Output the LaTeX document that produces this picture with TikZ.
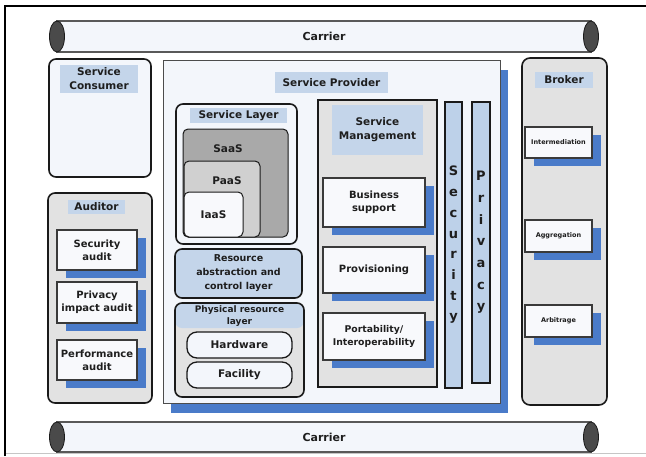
\documentclass[tikz,border=0pt]{standalone}
\usepackage{fontspec}
\setmainfont{DejaVu Sans}
\usetikzlibrary{shadows}

\definecolor{shblue}{HTML}{4A7BC9}
\definecolor{tagblue}{HTML}{C4D5EA}
\definecolor{barblue}{HTML}{BDD1E9}
\definecolor{lightfill}{HTML}{F3F6FB}
\definecolor{greyfill}{HTML}{E2E2E2}
\definecolor{saasgrey}{HTML}{A9A9A9}
\definecolor{paasgrey}{HTML}{D0D0D0}
\definecolor{edge}{HTML}{1A1A1A}
\definecolor{itemedge}{HTML}{3A3A3A}
\definecolor{itemfill}{HTML}{F8F9FC}
\definecolor{capfill}{HTML}{4A4A4A}
\definecolor{ink}{HTML}{1E1E1E}

\begin{document}
\begin{tikzpicture}[x=1pt,y=-1pt,
  every node/.style={outer sep=0pt, text=ink},
  box/.style={draw=edge, line width=1.6pt, rounded corners=7pt, inner sep=0pt, anchor=north west},
  plainbox/.style={draw=edge, line width=1.3pt, inner sep=0pt, anchor=north west},
  tag/.style={fill=tagblue, anchor=north west, inner sep=0pt, align=center,
              font=\bfseries\fontsize{10.5}{14}\selectfont},
  item/.style={draw=itemedge, line width=1.1pt, fill=itemfill, anchor=north west,
               align=center, inner sep=1pt, font=\bfseries\fontsize{10}{13}\selectfont,
               drop shadow={shadow xshift=9pt, shadow yshift=-8pt, fill=shblue, opacity=1}},
  smallitem/.style={item, font=\bfseries\fontsize{6.5}{8}\selectfont},
  pill/.style={draw=edge, line width=1.3pt, fill=lightfill, rounded corners=10pt,
               anchor=north west, inner sep=0pt, font=\bfseries\fontsize{10.5}{13}\selectfont},
  tube/.style={draw=gray!70!black, line width=1.2pt, fill=lightfill, inner sep=0pt,
               font=\bfseries\fontsize{11}{13}\selectfont},
  tubecap/.style={draw=edge, line width=0.8pt, fill=capfill},
  vbar/.style={draw=edge, line width=1.4pt, fill=barblue, anchor=north west, inner sep=0pt},
  vletters/.style={align=center, inner sep=0pt, font=\bfseries\fontsize{13}{20.7}\selectfont},
  label/.style={inner sep=0pt, align=center, font=\bfseries\fontsize{10.5}{13}\selectfont}]

\useasboundingbox (0,0) rectangle (646,456);
\fill[white] (0,0) rectangle (646,456);

% page frame
\draw[gray!45, line width=0.8pt] (5,453) -- (646,453);
\draw[black, line width=2.6pt] (5,456) -- (5,6) -- (646,6);

% carrier tubes
\node[tube, minimum width=534pt, minimum height=31pt] (carrierTop) at (324,36.5) {Carrier};
\draw[tubecap] (carrierTop.west) ellipse [x radius=7.5, y radius=15.5];
\draw[tubecap] (carrierTop.east) ellipse [x radius=7.5, y radius=15.5];

\node[tube, minimum width=534pt, minimum height=30pt] (carrierBot) at (324,437) {Carrier};
\draw[tubecap] (carrierBot.west) ellipse [x radius=7.5, y radius=15];
\draw[tubecap] (carrierBot.east) ellipse [x radius=7.5, y radius=15];

% service consumer
\node[box, fill=lightfill, minimum width=102pt, minimum height=118pt] (consumer) at (49,59) {};
\node[tag, minimum width=78pt, minimum height=28pt] (consumerTag) at (60,65) {Service\\Consumer};

% auditor
\node[box, fill=greyfill, minimum width=104pt, minimum height=210pt] (auditor) at (48,193) {};
\node[tag, minimum width=57pt, minimum height=14pt] (auditorTag) at (68,200) {Auditor};
\node[item, minimum width=80pt, minimum height=40pt] (secAudit) at (57,230) {Security\\audit};
\node[item, minimum width=80pt, minimum height=41pt] (privAudit) at (57,282) {Privacy\\impact audit};
\node[item, minimum width=80pt, minimum height=40pt] (perfAudit) at (57,340) {Performance\\audit};

% service provider
\node[draw=gray!60!black, line width=1pt, fill=lightfill, anchor=north west, inner sep=0pt,
      minimum width=337pt, minimum height=343pt,
      drop shadow={shadow xshift=8pt, shadow yshift=-10pt, fill=shblue, opacity=1}]
      (provider) at (163,60) {};
\node[tag, minimum width=113pt, minimum height=21pt] (providerTag) at (275,72) {Service Provider};

% service layer with nested service models
\node[box, fill=lightfill, minimum width=121pt, minimum height=140pt] (svcLayer) at (176,104) {};
\node[tag, minimum width=97pt, minimum height=15pt] (svcLayerTag) at (190,108) {Service Layer};
\node[draw=edge, line width=1pt, fill=saasgrey, rounded corners=5pt, anchor=north west,
      inner sep=0pt, minimum width=105pt, minimum height=108pt] (saas) at (183,129) {};
\node[label] (saasText) at (228,149) {SaaS};
\node[draw=edge, line width=1pt, fill=paasgrey, rounded corners=5pt, anchor=north west,
      inner sep=0pt, minimum width=76pt, minimum height=76pt] (paas) at (184,161) {};
\node[label] (paasText) at (227,181) {PaaS};
\node[draw=edge, line width=1pt, fill=itemfill, rounded corners=5pt, anchor=north west,
      inner sep=0pt, minimum width=59pt, minimum height=45pt, label] (iaas) at (184,192) {IaaS};

% resource abstraction and physical layers
\node[box, fill=tagblue, minimum width=127pt, minimum height=49pt, align=center,
      font=\bfseries\fontsize{9.5}{14}\selectfont] (resAbs) at (175,249)
      {Resource\\abstraction and\\control layer};
\node[box, fill=greyfill, minimum width=129pt, minimum height=94pt,
      path picture={\fill[tagblue] (path picture bounding box.north west) rectangle
        ([yshift=-25pt]path picture bounding box.north east);}] (phys) at (175,303) {};
\node[label, font=\bfseries\fontsize{9}{12}\selectfont] (physText) at (239.5,316)
      {Physical resource\\layer};
\node[pill, minimum width=105pt, minimum height=26pt] (hardware) at (187,332) {Hardware};
\node[pill, minimum width=105pt, minimum height=26pt] (facility) at (187,362) {Facility};

% service management
\node[plainbox, fill=greyfill, minimum width=119pt, minimum height=287pt] (svcMgmt) at (318,100) {};
\node[tag, minimum width=91pt, minimum height=50pt] (svcMgmtTag) at (332,105) {Service\\Management};
\node[item, minimum width=102pt, minimum height=49pt] (business) at (323,178) {Business\\support};
\node[item, minimum width=102pt, minimum height=46pt] (provisioning) at (323,247) {Provisioning};
\node[item, minimum width=102pt, minimum height=47pt, font=\bfseries\fontsize{9.3}{13}\selectfont]
      (portability) at (323,313) {Portability/\\Interoperability};

% security and privacy bars
\node[vbar, minimum width=17pt, minimum height=286pt] (security) at (445,102) {};
\node[vletters] (securityText) at (security.center) {S\\e\\c\\u\\r\\i\\t\\y};
\node[vbar, minimum width=18pt, minimum height=281pt] (privacy) at (472,102) {};
\node[vletters, font=\bfseries\fontsize{13}{21.7}\selectfont] (privacyText) at (privacy.center)
      {P\\r\\i\\v\\a\\c\\y};

% broker
\node[box, fill=greyfill, rounded corners=8pt, minimum width=85pt, minimum height=347pt] (broker) at (522,58) {};
\node[tag, minimum width=58pt, minimum height=16pt] (brokerTag) at (535,72) {Broker};
\node[smallitem, minimum width=67pt, minimum height=31pt] (intermed) at (525,127) {Intermediation};
\node[smallitem, minimum width=67pt, minimum height=32pt] (aggreg) at (525,220) {Aggregation};
\node[smallitem, minimum width=67pt, minimum height=32pt] (arbit) at (525,305) {Arbitrage};

\end{tikzpicture}
\end{document}
